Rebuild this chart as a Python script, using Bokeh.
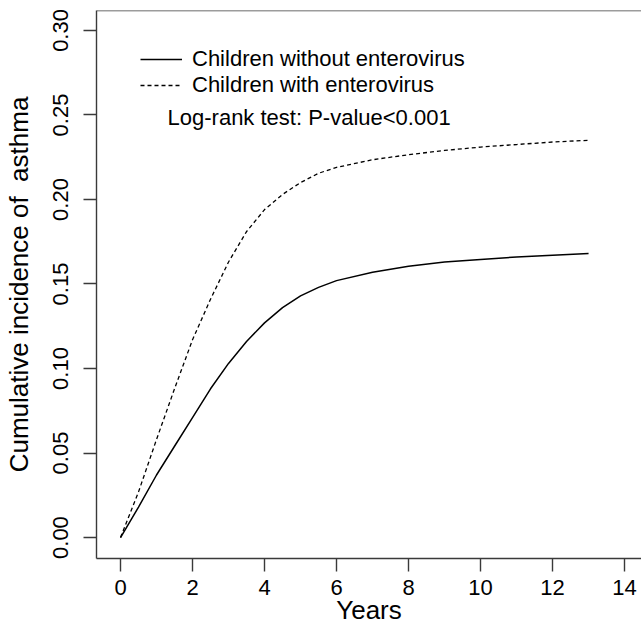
from bokeh.plotting import figure
from bokeh.models import (Range1d, LinearAxis, FixedTicker, Legend, LegendItem,
                          Label, Span)
from bokeh.embed import file_html
from bokeh.resources import INLINE

# ---- data ----
years = [0, 0.5, 1, 1.5, 2, 2.5, 3, 3.5, 4, 4.5, 5, 5.5, 6, 7, 8, 9, 10, 11, 12, 13]
without_ev = [0.0, 0.018, 0.037, 0.054, 0.071, 0.088, 0.103, 0.116, 0.127, 0.136,
              0.143, 0.148, 0.152, 0.157, 0.1605, 0.163, 0.1645, 0.166, 0.167, 0.168]
with_ev = [0.0, 0.027, 0.058, 0.088, 0.117, 0.141, 0.163, 0.181, 0.194, 0.203,
           0.210, 0.2155, 0.219, 0.2235, 0.2265, 0.229, 0.231, 0.2325, 0.234, 0.235]
x_ticks = [0, 2, 4, 6, 8, 10, 12, 14]
y_ticks = [0.00, 0.05, 0.10, 0.15, 0.20, 0.25, 0.30]
y_tick_labels = {0.0: "0.00", 0.05: "0.05", 0.1: "0.10", 0.15: "0.15",
                 0.2: "0.20", 0.25: "0.25", 0.3: "0.30"}
series_names = ["Children without enterovirus", "Children with enterovirus"]
note = "Log-rank test: P-value<0.001"
x_title = "Years"
y_title = "Cumulative incidence of\u00a0 asthma"

FONT = "Liberation Sans"
FRAME_COLOR = "#3a3a3a"

p = figure(width=641, height=627, output_backend="svg", toolbar_location=None,
           x_range=Range1d(-0.667, 14.47), y_range=Range1d(-0.0124, 0.3118),
           min_border_left=96, min_border_top=10, min_border_right=0,
           min_border_bottom=69, x_axis_location=None, y_axis_location=None)
p.outline_line_color = None
p.grid.visible = False
p.background_fill_color = "white"
p.border_fill_color = "white"

# bottom axis
xa = LinearAxis(ticker=FixedTicker(ticks=x_ticks), axis_label=x_title)
xa.axis_line_color = FRAME_COLOR
xa.axis_line_width = 1.4
xa.major_tick_line_color = FRAME_COLOR
xa.major_tick_line_width = 1.4
xa.major_tick_out = 13
xa.major_tick_in = 0
xa.minor_tick_line_color = None
xa.major_label_text_font = FONT
xa.major_label_text_font_size = "22px"
xa.major_label_text_color = "black"
xa.major_label_standoff = 8
xa.axis_label_text_font = FONT
xa.axis_label_text_font_size = "26px"
xa.axis_label_text_font_style = "normal"
xa.axis_label_text_color = "black"
xa.axis_label_standoff = -3
p.add_layout(xa, "below")

# left axis
ya = LinearAxis(ticker=FixedTicker(ticks=y_ticks), axis_label=y_title)
ya.major_label_overrides = y_tick_labels
ya.axis_line_color = FRAME_COLOR
ya.axis_line_width = 1.4
ya.major_tick_line_color = FRAME_COLOR
ya.major_tick_line_width = 1.4
ya.major_tick_out = 13
ya.major_tick_in = 0
ya.minor_tick_line_color = None
ya.major_label_orientation = "vertical"
ya.major_label_text_font = FONT
ya.major_label_text_font_size = "22px"
ya.major_label_text_color = "black"
ya.major_label_standoff = 15
ya.axis_label_text_font = FONT
ya.axis_label_text_font_size = "26px"
ya.axis_label_text_font_style = "normal"
ya.axis_label_text_color = "black"
ya.axis_label_standoff = 17
p.add_layout(ya, "left")

# top frame line
p.add_layout(Span(location=0.3118, dimension="width", line_color=FRAME_COLOR,
                  line_width=1.4))

r1 = p.line(years, without_ev, line_color="black", line_width=1.5)
r2 = p.line(years, with_ev, line_color="black", line_width=1.3, line_dash="4 3")

legend = Legend(items=[LegendItem(label=series_names[0], renderers=[r1]),
                       LegendItem(label=series_names[1], renderers=[r2])],
                location=(44, 460), orientation="vertical")
legend.background_fill_alpha = 0
legend.border_line_color = None
legend.padding = 0
legend.margin = 0
legend.spacing = 0
legend.glyph_width = 42
legend.glyph_height = 26
legend.label_height = 26
legend.label_standoff = 10
legend.label_text_font = FONT
legend.label_text_font_size = "22px"
legend.label_text_color = "black"
legend.label_text_baseline = "middle"
p.add_layout(legend)

p.add_layout(Label(x=1.306, y=0.2485, text=note, text_font=FONT,
                   text_font_size="22px", text_color="black",
                   text_baseline="middle", text_align="left"))

open("out.html", "w").write(file_html(p, INLINE))
